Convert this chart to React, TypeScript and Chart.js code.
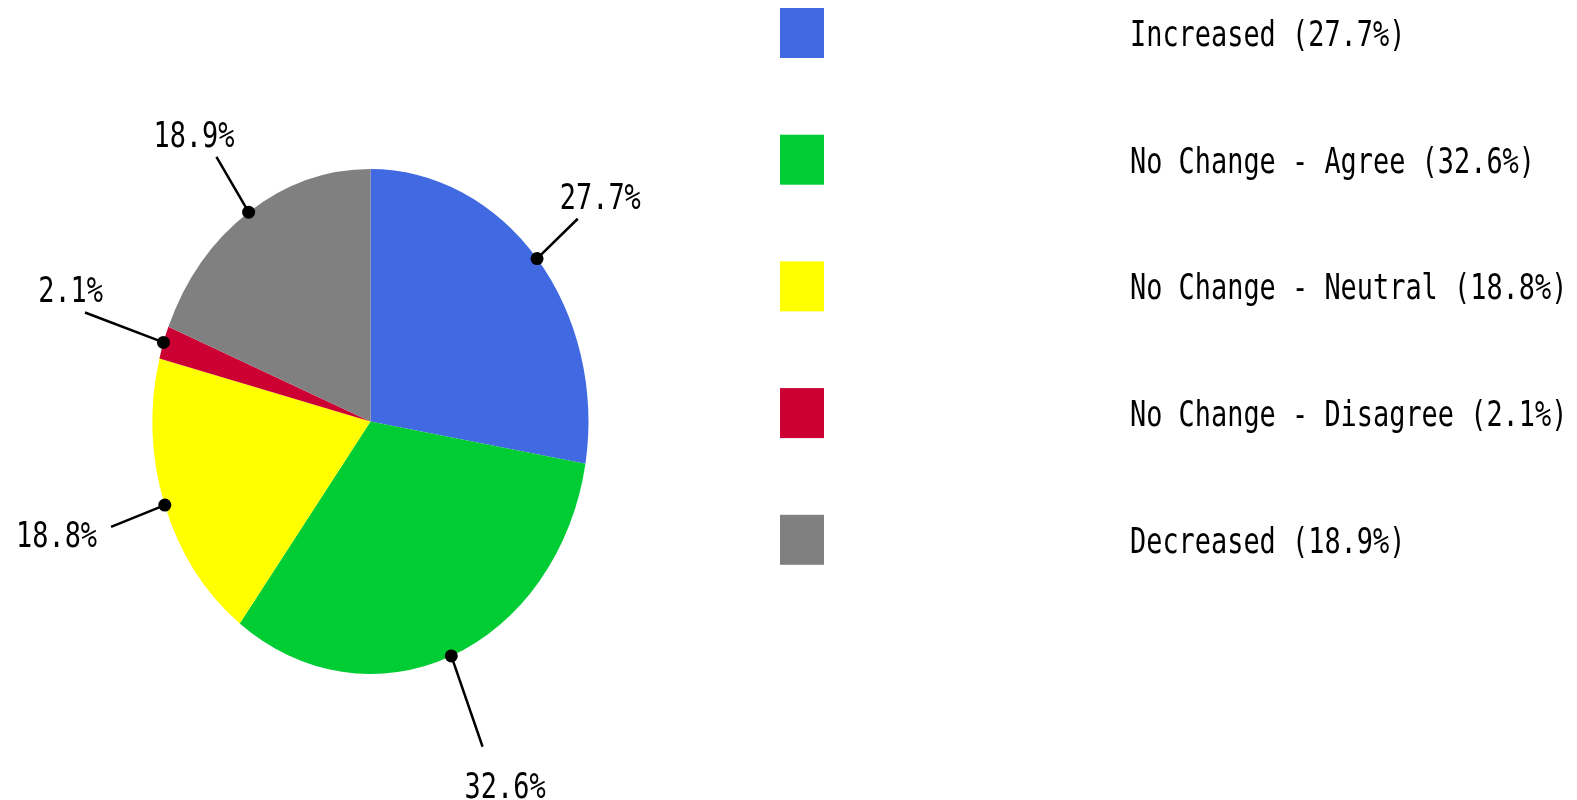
import React, { useEffect, useRef } from "react";
import { Chart, registerables } from "chart.js";

Chart.register(...registerables);

// ---- data ----
const categories = [
  "Increased",
  "No Change - Agree",
  "No Change - Neutral",
  "No Change - Disagree",
  "Decreased",
];
const percentages = [27.7, 32.6, 18.8, 2.1, 18.9];
const sliceColors = ["#4169E1", "#00CC33", "#FFFF00", "#CC0033", "#808080"];
const sliceLabels = percentages.map((p) => `${p}%`);
const legendLabels = categories.map((c, i) => `${c} (${percentages[i]}%)`);

// ---- style / layout config ----
const FONT = '36px "DejaVu Sans Mono", "Liberation Mono", monospace';
const CHAR_ADVANCE = 16.2; // condensed bitmap-like font advance
const ELLIPSE_RATIO = 1.158; // vertical stretch of the pie
const leaderLengths = [57, 96, 58, 84, 64];
const leaderModes = ["v", "v", "side", "v", "v"];

function drawCondensed(ctx: CanvasRenderingContext2D, text: string, left: number, baseline: number, sx: number) {
  ctx.save();
  ctx.translate(left, baseline);
  ctx.scale(sx, 1);
  ctx.textAlign = "left";
  ctx.textBaseline = "alphabetic";
  ctx.fillText(text, 0, 0);
  ctx.restore();
}

const piePlugin = {
  id: "ellipsePie",
  beforeDatasetsDraw(chart: any) {
    const el = chart.getDatasetMeta(0).data[0];
    if (!el) return;
    const ctx = chart.ctx;
    ctx.save();
    ctx.translate(el.x, el.y);
    ctx.scale(1, ELLIPSE_RATIO);
    ctx.translate(-el.x, -el.y);
  },
  afterDatasetsDraw(chart: any) {
    chart.ctx.restore();
  },
  afterDraw(chart: any) {
    const ctx: CanvasRenderingContext2D = chart.ctx;
    ctx.save();
    ctx.font = FONT;
    ctx.fillStyle = "#000";
    const m = ctx.measureText("0");
    const sx = CHAR_ADVANCE / m.width;
    const capH = m.actualBoundingBoxAscent;

    // slice labels with leader lines
    const arcs = chart.getDatasetMeta(0).data;
    arcs.forEach((el: any, i: number) => {
      const a = (el.startAngle + el.endAngle) / 2;
      const r = el.outerRadius;
      const px = el.x + r * Math.cos(a);
      const py = el.y + r * ELLIPSE_RATIO * Math.sin(a);
      let ux = Math.cos(a);
      let uy = ELLIPSE_RATIO * Math.sin(a);
      const n = Math.hypot(ux, uy);
      ux /= n;
      uy /= n;
      const ex = px + ux * leaderLengths[i];
      const ey = py + uy * leaderLengths[i];

      ctx.strokeStyle = "#000";
      ctx.lineWidth = 2.5;
      ctx.beginPath();
      ctx.moveTo(px, py);
      ctx.lineTo(ex, ey);
      ctx.stroke();
      ctx.beginPath();
      ctx.arc(px, py, 6.5, 0, Math.PI * 2);
      ctx.fill();

      const text = sliceLabels[i];
      const w = ctx.measureText(text).width * sx;
      let left: number;
      let baseline: number;
      if (leaderModes[i] === "side") {
        left = ux < 0 ? ex - 14 - w : ex + 14;
        baseline = ey + 20;
      } else {
        const cx = ex + Math.sign(ux) * (w / 2 - 18);
        left = cx - w / 2;
        baseline = uy < 0 ? ey - 10 : ey + 25 + capH;
      }
      drawCondensed(ctx, text, left, baseline, sx);
    });

    // legend
    const boxX = 780;
    const boxW = 44;
    const boxH = 50;
    const top0 = 8;
    const step = 126.7;
    const textX = 1130;
    legendLabels.forEach((lab, i) => {
      const top = top0 + i * step;
      ctx.fillStyle = sliceColors[i];
      ctx.fillRect(boxX, top, boxW, boxH);
      ctx.fillStyle = "#000";
      drawCondensed(ctx, lab, textX, top + boxH / 2 + capH / 2, sx);
    });
    ctx.restore();
  },
};

export default function App() {
  const canvasRef = useRef<HTMLCanvasElement | null>(null);
  useEffect(() => {
    if (!canvasRef.current) return;
    const chart = new Chart(canvasRef.current, {
      type: "pie",
      data: {
        labels: categories,
        datasets: [
          {
            data: percentages,
            backgroundColor: sliceColors,
            borderWidth: 0,
            clip: false as any,
          },
        ],
      },
      options: {
        animation: false,
        responsive: true,
        maintainAspectRatio: false,
        devicePixelRatio: 1,
        layout: {
          padding: { left: 152.5, right: 988.5, top: 203.5, bottom: 160.5 },
        },
        plugins: {
          legend: { display: false },
          tooltip: { enabled: false },
        },
      },
      plugins: [piePlugin],
    });
    return () => chart.destroy();
  }, []);
  return (
    <div
      style={{
        position: "fixed",
        left: 0,
        top: 0,
        width: "1577px",
        height: "800px",
        background: "#fff",
      }}
    >
      <canvas ref={canvasRef} />
    </div>
  );
}
